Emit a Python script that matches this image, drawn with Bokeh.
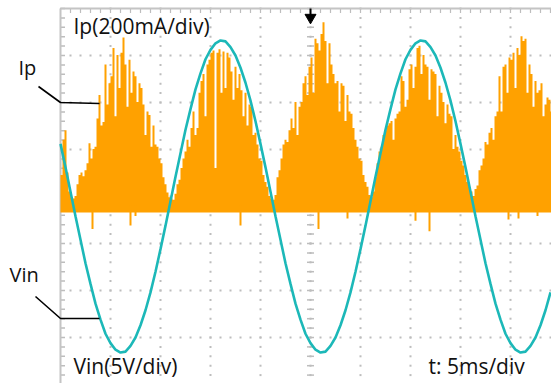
import numpy as np
from bokeh.plotting import figure
from bokeh.models import Range1d, Label
from bokeh.embed import file_html
from bokeh.resources import INLINE

# ---------------- data ----------------
# Vin trace, volts, one sample every 0.5 ms starting at the left screen edge
vin_dt_ms = 0.5
vin_v = [
    5.6, 3.1, 0.5, -2.1, -4.6, -7.1, -9.3, -11.4, -13.1, -14.6,
    -15.6, -16.3, -16.6, -16.5, -15.9, -15.0, -13.7, -12.1, -10.2, -8.0,
    -5.6, -3.1, -0.5, 2.1, 4.6, 7.1, 9.3, 11.4, 13.1, 14.6,
    15.6, 16.3, 16.6, 16.5, 15.9, 15.0, 13.7, 12.1, 10.2, 8.0,
    5.6, 3.1, 0.5, -2.1, -4.6, -7.1, -9.3, -11.4, -13.1, -14.6,
    -15.6, -16.3, -16.6, -16.5, -15.9, -15.0, -13.7, -12.1, -10.2, -8.0,
    -5.6, -3.1, -0.5, 2.1, 4.6, 7.1, 9.3, 11.4, 13.1, 14.6,
    15.6, 16.3, 16.6, 16.5, 15.9, 15.0, 13.7, 12.1, 10.2, 8.0,
    5.6, 3.1, 0.5, -2.1, -4.6, -7.1, -9.3, -11.4, -13.1, -14.6,
    -15.6, -16.3, -16.6, -16.5, -15.9, -15.0, -13.7, -12.1, -10.2,
]

# Ip envelope (top of the switching spikes), mA, one value every 0.2 ms
ip_dt_ms = 0.2
ip_ma = [
    130, 280, 320, 140, 60, 35, 30, 40, 90, 130,
    140, 125, 150, 180, 265, 200, 240, 250, 370, 470,
    340, 355, 600, 430, 520, 550, 670, 380, 640, 500,
    650, 715, 600, 420, 620, 480, 570, 550, 440, 520,
    500, 430, 300, 400, 385, 250, 340, 260, 250, 200,
    180, 120, 90, 55, 35, 30, 25, 50, 90, 110,
    160, 200, 230, 280, 250, 330, 400, 300, 330, 480,
    530, 560, 380, 600, 620, 650, 660, 160, 650, 665,
    480, 655, 500, 650, 630, 570, 450, 590, 500, 560,
    490, 380, 480, 340, 430, 420, 300, 310, 260, 200,
    190, 130, 100, 80, 40, 30, 25, 45, 120, 150,
    200, 260, 280, 270, 320, 370, 330, 440, 300, 420,
    440, 520, 550, 470, 590, 630, 480, 710, 690, 660,
    730, 780, 700, 520, 690, 600, 560, 520, 530, 400,
    520, 510, 360, 470, 400, 390, 330, 280, 250, 200,
    190, 130, 100, 80, 45, 35, 60, 120, 180, 230,
    250, 300, 320, 340, 350, 360, 280, 370, 390, 400,
    550, 530, 420, 450, 580, 600, 500, 590, 670, 680,
    560, 640, 600, 590, 450, 580, 570, 560, 380, 510,
    480, 440, 350, 430, 390, 380, 240, 300, 250, 230,
    190, 170, 130, 100, 80, 60, 40, 70, 85, 150,
    170, 200, 270, 260, 310, 330, 280, 380, 400, 550,
    400, 590, 600, 480, 630, 620, 650, 500, 670, 640,
    720, 700, 710, 480, 600, 560, 420, 530, 480, 490,
    520, 380, 430, 460, 450, 400,
]
ip_floor_ma = -30          # lower edge of the noise band
dip_t_ms = [3.2, 7.0, 7.5, 18.0, 25.8, 28.7, 35.5, 36.9, 44.8, 45.8, 47.7]
dip_ma = [-100, -85, -45, -85, -100, -55, -65, -110, -60, -55, -45]

label_ip_scale = "Ip(200mA/div)"
label_vin_scale = "Vin(5V/div)"
label_time = "t: 5ms/div"
label_ip = "Ip"
label_vin = "Vin"

# ---------------- scope geometry ----------------
W, H = 551, 383
X0 = 60          # screen px of t = 0 (left graticule edge)
PX_MS = 10       # 5 ms/div, 50 px/div
CY = 196         # screen px of the centre line
PX_DIV = 47
IP0 = 205        # screen px of Ip zero
V_DIV = 5.0
MA_DIV = 200.0

def tx(px):
    return (px - X0) / PX_MS

def dy(py):
    return (CY - py) / PX_DIV

p = figure(width=W, height=H, output_backend="svg", toolbar_location=None,
           x_range=Range1d(tx(0), tx(W)), y_range=Range1d(dy(H), dy(0)),
           x_axis_location=None, y_axis_location=None, min_border=0,
           outline_line_color=None, background_fill_color="white",
           border_fill_color="white")
p.grid.visible = False
p.extra_y_ranges = {
    "vin": Range1d(dy(H) * V_DIV, dy(0) * V_DIV),
    "ip": Range1d((IP0 - H) / PX_DIV * MA_DIV, IP0 / PX_DIV * MA_DIV),
}

GRID = "#bdbdbd"
# graticule dots
gx, gy = [], []
for t in range(5, 50, 5):
    for k in range(-20, 21):
        gx.append(t); gy.append(k * 0.2)
for d in range(-3, 4):
    for t in range(1, 50):
        gx.append(t); gy.append(d)
p.scatter(gx, gy, marker="square", size=2, fill_color=GRID, line_color=None)

# centre vertical axis ticks
ck = [k * 0.2 for k in range(-20, 21)]
p.scatter([25] * len(ck), ck, marker="dash", size=7, line_color=GRID, line_width=1.5)
# left border ticks
p.scatter([tx(62)] * len(ck), ck, marker="dash", size=5, line_color=GRID, line_width=1.5)
# top border ticks
tt = list(range(1, 50))
p.scatter(tt, [dy(10)] * len(tt), marker="dash", angle=np.pi / 2, size=5,
          line_color=GRID, line_width=1.2)
# borders
p.line([0, 0], [dy(H), dy(8)], line_color="#c4c4c4", line_width=2)
p.line([0, tx(W)], [dy(8), dy(8)], line_color="#c4c4c4", line_width=2)

# Ip trace
ip_t = np.arange(len(ip_ma) + 1) * ip_dt_ms
ip_hi = list(ip_ma) + [ip_ma[-1]]
ip_lo = [ip_floor_ma] * len(ip_hi)
ORANGE = "#FFA100"
p.varea_step(x=ip_t, y1=ip_lo, y2=ip_hi, step_mode="after", fill_color=ORANGE,
             y_range_name="ip")
p.vbar(x=dip_t_ms, width=0.2, bottom=dip_ma, top=[0] * len(dip_ma),
       fill_color=ORANGE, line_color=None, y_range_name="ip")

# Vin trace
vin_t = np.arange(len(vin_v)) * vin_dt_ms
p.line(vin_t, vin_v, line_color="#1CB8B8", line_width=2.6, y_range_name="vin")

# trigger marker
p.segment(x0=[25], y0=[dy(8)], x1=[25], y1=[dy(15)], line_color="black", line_width=2)
p.scatter([25], [dy(17)], marker="inverted_triangle", size=11, fill_color="black",
          line_color="black")

# leader lines
p.multi_line(xs=[[tx(38), tx(60), tx(99)], [tx(35), tx(60), tx(99)]],
             ys=[[dy(86), dy(102), dy(103)], [dy(296), dy(318), dy(318)]],
             line_color="black", line_width=1.6)

FONT = "Open Sans"
LIFT = 9  # label anchor correction (px)
def lab(text, px, py, size):
    p.add_layout(Label(x=tx(px), y=dy(py - LIFT), text=text, text_font=FONT,
                       text_font_size=size, text_color="#111111",
                       text_baseline="alphabetic", text_align="left"))

lab(label_ip_scale, 73, 34, "21px")
lab(label_ip, 18, 76, "20px")
lab(label_vin, 9, 283, "20px")
lab(label_vin_scale, 73, 374, "21px")
lab(label_time, 428, 374, "21px")

open("out.html", "w").write(file_html(p, INLINE))
